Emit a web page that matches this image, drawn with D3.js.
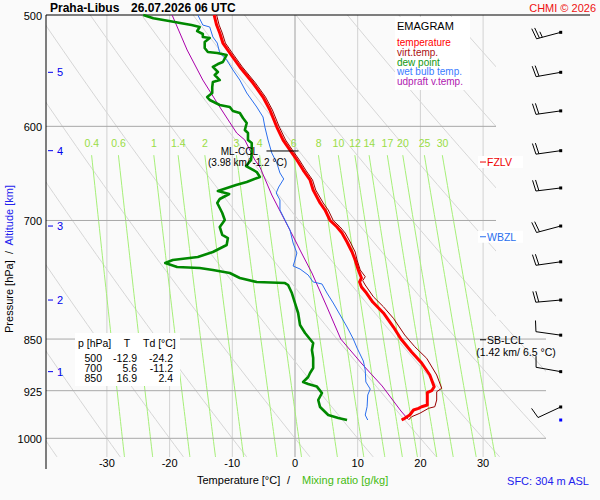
<!DOCTYPE html>
<html><head><meta charset="utf-8">
<script src="https://cdn.jsdelivr.net/npm/d3@7"></script>
<style>
body{margin:0;background:#fafafa;}
svg{display:block;font-family:"Liberation Sans",Arial,sans-serif;}
</style></head><body>
<svg id="c" width="600" height="500"></svg>
<script>
// ---------- data ----------
const presLevels = [500, 600, 700, 850, 925, 1000];
const tempTicks = [-30, -20, -10, 0, 10, 20, 30];
const mixRatios = [0.4, 0.6, 1, 1.4, 2, 3, 4, 6, 8, 10, 12, 14, 17, 20, 25, 30];
const thetaLines = [-40, -30, -20, -10, 0, 10, 20, 30, 40, 50, 60, 70, 80, 90, 100, 110];
const altKm = [1, 2, 3, 4, 5];
const altP = [896.6, 797.4, 706.4, 624.4, 549.2];

// temperature
const tP = [500,508.3,515,523.5,532.1,544.4,558.9,571.9,584.2,600.7,613.6,625.7,634,644.5,655.1,665.9,680.2,688.1,700,707.5,714.5,725.1,737.1,746.8,759.1,769.1,774.2,780.6,788.3,800,814.5,833.4,850,868.2,884,901.5,919,925,928.1,946.9,949.6,952.1,954.7,962.6,967.8,970.5];
const tT = [-12.9,-12.5,-12.0,-11.5,-10.4,-8.8,-6.7,-5.1,-4.0,-2.9,-1.9,-0.6,0.3,1.3,2.4,2.9,4.0,4.8,5.6,6.7,7.5,8.3,9.1,9.6,10.1,10.6,10.3,10.6,11.4,12.4,14.1,15.7,16.9,18.6,20.2,21.5,22.2,21.8,21.1,21.1,20.2,19.7,18.9,18.3,17.5,17.0];
// virtual temperature
const vP = [500,508.3,515,523.5,532.1,544.4,558.9,571.9,584.2,600.7,613.6,625.7,634,644.5,655.1,665.9,680.2,688.1,700,707.5,714.5,725.1,737.1,746.8,759.1,767.5,772.5,778,793.1,806.2,821.6,844.4,860.7,877.2,901.5,921.4,926.5,939.2,949.6,952.1,959.9,965.3,970.5];
const vT = [-12.5,-12.1,-11.6,-11.1,-10.0,-8.4,-6.3,-4.7,-3.6,-2.5,-1.5,-0.2,0.7,1.7,2.8,3.3,4.5,5.3,6.1,7.2,8.0,8.8,9.6,9.9,10.4,11.2,10.8,11.2,12.5,14.1,15.7,17.5,19.1,21.0,22.6,23.4,22.6,22.6,22.3,21.3,19.9,18.6,18.1];
// dew point
const dP = [500,502.7,504.1,505.5,506.8,508.3,509.9,513.3,515.8,518.3,519.2,522.6,527.8,531.2,532.1,533.8,540.0,541.8,544.4,548.9,551.6,556.2,558.0,562.6,568.1,571.9,574.7,579.4,581.3,585.1,587.0,591.9,596.7,603.6,606.6,613.6,616.6,626.8,634.0,640.3,646.6,651.9,657.2,660.5,667.0,670.3,675.8,680.2,691.5,699.4,707.5,716.8,720.4,728.7,737.1,743.1,746.8,750.5,755.4,756.7,759.1,762.9,769.1,774.2,775.5,778.0,788.3,801.3,814.5,830.7,841.6,851.3,855.5,865.4,876.8,891.3,898.6,904.5,911.9,914.9,918.8,928.5,939.2,950.1,962.6,967.3,970.5];
const dT = [-24.2,-22.6,-21.0,-19.4,-18.1,-16.5,-15.2,-15.6,-14.7,-14.7,-13.6,-14.4,-14.4,-13.9,-12.4,-10.9,-11.5,-12.3,-13.1,-12.3,-12.8,-12.0,-13.1,-13.2,-13.2,-14.0,-13.6,-12.0,-10.4,-9.9,-8.8,-8.3,-7.7,-8.0,-7.5,-7.5,-6.9,-6.9,-7.0,-7.8,-6.1,-5.6,-7.7,-9.4,-12.3,-10.5,-12.0,-12.4,-11.6,-11.2,-12.0,-11.6,-10.7,-10.9,-13.1,-15.5,-19.5,-20.7,-18.8,-15.2,-13.1,-10.4,-8.8,-6.1,-1.6,-1.1,-0.5,0.0,0.5,0.8,1.6,2.5,2.9,2.7,2.9,2.9,2.4,2.1,1.3,2.1,3.5,4.3,3.7,4.0,5.3,6.9,8.3];
// wet bulb temperature
const wP = [500,508.3,509.9,518.3,523.5,532.1,538.2,547.1,556.2,568.1,581.3,590.9,600.7,613.6,626.8,637.1,647.6,654,662.7,669.2,676.9,688.1,699.4,711,726.3,738.3,746.8,754.2,757.9,765.4,774.2,776.7,788.3,801.3,817.2,833.4,850,862.6,881.1,894.2,911.9,922.5,931.6,949.6,962.6,970.5];
const wT = [-15.5,-14.7,-13.6,-13.1,-12.4,-12.0,-10.9,-9.9,-8.8,-7.7,-6.1,-5.1,-4.8,-4.3,-3.7,-2.9,-2.4,-1.8,-2.6,-3.0,-2.4,-2.4,-1.6,-0.8,-0.3,0.3,0.0,-0.3,0.8,2.1,2.9,4.3,5.1,6.1,7.2,8.3,9.3,9.9,10.9,11.2,11.3,12.0,11.6,11.5,11.2,11.6];
// updraft virtual temperature (parcel)
const uP = [500,529.5,556.2,581.3,606.6,613.6,623.7,634.0,641.3,671.4,696.0,722.7,734.7,762.9,806.5,850,885.5,917.9,956.3,968.9];
const uT = [-19.6,-17.2,-14.7,-12.0,-9.3,-8.0,-7.2,-6.4,-5.6,-3.7,-1.9,0.0,0.8,2.7,5.1,7.3,10.7,13.9,16.9,18.0];

// wind barbs
const barbP = [514.4, 549.2, 585, 624.4, 663.7, 706.4, 749, 797.4, 844.6, 896.6, 950];
const barbDir = [255, 260, 262, 262, 263, 255, 262, 265, 278, 280, 245];
const barbSpd = [25, 20, 20, 20, 20, 20, 20, 20, 10, 10, 10];
const sfcP = 970.5;

// table
const tabP = [500, 700, 850];
const tabT = ["-12.9", "5.6", "16.9"];
const tabTd = ["-24.2", "-11.2", "2.4"];

// levels
const cclP = 624.7, cclT = -1.2;
const lclP = 851;
const fzlvP = 636.1;
const wbzlP = 718.9;

const legendItems = ["temperature", "virt.temp.", "dew point", "wet bulb temp.", "udpraft v.temp."];
const legendColors = ["#ff0000", "#aa1111", "#119911", "#3a7bff", "#b020b0"];

// ---------- scales ----------
const x = d3.scaleLinear().domain([-30, 30]).range([106.9, 483.1]);
const y = d3.scaleLog().domain([500, 1000]).range([15, 438.3]);

const svg = d3.select("#c");
svg.append("rect").attr("width", 600).attr("height", 500).attr("fill", "#fafafa");

svg.append("defs").append("clipPath").attr("id", "pc")
  .append("polygon").attr("points", "46,15 496,15 496,320 546,320 546,457 46,457");

const grid = svg.append("g").attr("clip-path", "url(#pc)");

// isotherms
grid.selectAll(".iso").data(tempTicks).enter().append("line")
  .attr("x1", d => x(d)).attr("x2", d => x(d))
  .attr("y1", 15).attr("y2", 457)
  .attr("stroke", d => d === 0 ? "#a0a0a0" : "#d2d2d2").attr("stroke-width", 1);

// dry adiabats
const pSamp = d3.range(490, 1071, 10);
const adLine = d3.line().x(d => x(d[0])).y(d => y(d[1]));
thetaLines.forEach(th => {
  const pts = pSamp.map(p => [(th + 273.15) * Math.pow(p / 1000, 0.2857) - 273.15, p]);
  grid.append("path").attr("d", adLine(pts)).attr("fill", "none")
    .attr("stroke", "#d6d6d6").attr("stroke-width", 1);
});

// mixing ratio lines
function mrTd(w, p) { const e = w * p / (622 + w); const a = Math.log(e / 6.112); return 243.5 * a / (17.67 - a); }
const mrSamp = d3.range(629, 1032, 8).concat([1031]);
mixRatios.forEach(w => {
  const pts = mrSamp.map(p => [mrTd(w, p), p]);
  grid.append("path").attr("d", adLine(pts)).attr("fill", "none")
    .attr("stroke", "#a6ef78").attr("stroke-width", 1);
});
svg.selectAll(".mrl").data(mixRatios).enter().append("text")
  .attr("x", d => x(mrTd(d, 630))).attr("y", 147)
  .attr("text-anchor", "middle").attr("font-size", "10.5px").attr("fill", "#99dd44")
  .text(d => d);

// isobars
presLevels.filter(p => p !== 500).forEach(p => {
  svg.append("line").attr("x1", 46).attr("x2", p >= 800 ? 546 : 496)
    .attr("y1", y(p)).attr("y2", y(p)).attr("stroke", "#a8a8a8").attr("stroke-width", 1);
});
// frame
svg.append("line").attr("x1", 46).attr("x2", 590).attr("y1", 15).attr("y2", 15).attr("stroke", "#000");
svg.append("line").attr("x1", 46).attr("x2", 46).attr("y1", 15).attr("y2", 469).attr("stroke", "#000");

// pressure labels
svg.selectAll(".pl").data(presLevels).enter().append("text")
  .attr("x", 42).attr("y", d => y(d) + 5).attr("text-anchor", "end")
  .attr("font-size", "11px").attr("fill", "#000").text(d => d);

// altitude ticks
altKm.forEach((k, i) => {
  const yy = y(altP[i]);
  svg.append("line").attr("x1", 48).attr("x2", 53).attr("y1", yy).attr("y2", yy).attr("stroke", "#0000ee");
  svg.append("text").attr("x", 57).attr("y", yy + 4).attr("font-size", "11px").attr("fill", "#0000ee").text(k);
});

// temperature tick labels
svg.selectAll(".tl").data(tempTicks).enter().append("text")
  .attr("x", d => x(d)).attr("y", 466.5).attr("text-anchor", "middle")
  .attr("font-size", "11px").attr("fill", "#000").text(d => d);

// axis titles
const yt = svg.append("text").attr("transform", "translate(13,259) rotate(-90)")
  .attr("text-anchor", "middle").attr("font-size", "11px").style("white-space", "pre");
yt.append("tspan").attr("fill", "#000").text("Pressure [hPa]  /  ");
yt.append("tspan").attr("fill", "#2222ee").text("Altitude [km]");

svg.append("text").attr("x", 197).attr("y", 484).attr("font-size", "11px").attr("fill", "#000").text("Temperature [°C]");
svg.append("text").attr("x", 287).attr("y", 484).attr("font-size", "11px").attr("fill", "#000").text("/");
svg.append("text").attr("x", 302).attr("y", 484).attr("font-size", "11px").attr("fill", "#44bb11").text("Mixing ratio [g/kg]");
svg.append("text").attr("x", 589).attr("y", 485).attr("text-anchor", "end").attr("font-size", "11px").attr("fill", "#2222ee").text("SFC: 304 m ASL");

// title
svg.append("text").attr("x", 50).attr("y", 12).attr("font-size", "12px").attr("font-weight", "bold").text("Praha-Libus");
svg.append("text").attr("x", 131).attr("y", 12).attr("font-size", "12px").attr("font-weight", "bold").text("26.07.2026 06 UTC");
svg.append("text").attr("x", 596).attr("y", 11.5).attr("text-anchor", "end").attr("font-size", "11px").attr("fill", "#ee1111").text("CHMI © 2026");

// profiles
const prof = d3.line().x(d => x(d[1])).y(d => y(d[0]));
function draw(P, T, color, w) {
  svg.append("path").attr("d", prof(P.map((p, i) => [p, T[i]])))
    .attr("fill", "none").attr("stroke", color).attr("stroke-width", w)
    .attr("stroke-linejoin", "round");
}
draw(uP, uT, "#aa00aa", 1);
draw(wP, wT, "#2a6fee", 1);
draw(dP, dT, "#008800", 2.6);
draw(tP, tT, "#ff0000", 3);
draw(vP, vT, "#990000", 1);

// legend
svg.append("rect").attr("x", 395).attr("y", 17).attr("width", 75).attr("height", 73).attr("fill", "#fff");
svg.append("text").attr("x", 397).attr("y", 30).attr("font-size", "11px").attr("fill", "#000").text("EMAGRAM");
legendItems.forEach((s, i) => {
  svg.append("text").attr("x", 397).attr("y", 45.8 + i * 9.85).attr("font-size", "10px")
    .attr("fill", legendColors[i]).text(s);
});

// table
svg.append("rect").attr("x", 75).attr("y", 333).attr("width", 105).attr("height", 53).attr("fill", "#fff");
svg.append("text").attr("x", 78).attr("y", 347).attr("font-size", "10.5px").text("p [hPa]");
svg.append("text").attr("x", 127).attr("y", 347).attr("text-anchor", "middle").attr("font-size", "10.5px").text("T");
svg.append("text").attr("x", 143).attr("y", 347).attr("font-size", "10.5px").text("Td [°C]");
tabP.forEach((p, i) => {
  const yy = 362 + i * 10;
  svg.append("text").attr("x", 102).attr("y", yy).attr("text-anchor", "end").attr("font-size", "10.5px").text(p);
  svg.append("text").attr("x", 137).attr("y", yy).attr("text-anchor", "end").attr("font-size", "10.5px").text(tabT[i]);
  svg.append("text").attr("x", 173).attr("y", yy).attr("text-anchor", "end").attr("font-size", "10.5px").text(tabTd[i]);
});

// ML-CCL
const yc = y(cclP);
svg.append("line").attr("x1", x(cclT) - 21).attr("x2", x(cclT) + 11).attr("y1", yc).attr("y2", yc).attr("stroke", "#000");
svg.append("text").attr("x", 258).attr("y", yc + 4.5).attr("text-anchor", "end").attr("font-size", "10px").text("ML-CCL");
svg.append("text").attr("x", 247.5).attr("y", yc + 15.5).attr("text-anchor", "middle").attr("font-size", "10px").text("(3.98 km/ -1.2 °C)");

// SB-LCL
const yl = y(lclP);
svg.append("line").attr("x1", 480).attr("x2", 486).attr("y1", yl).attr("y2", yl).attr("stroke", "#000");
svg.append("text").attr("x", 487).attr("y", yl + 4).attr("font-size", "10.5px").text("SB-LCL");
svg.append("text").attr("x", 516).attr("y", yl + 16).attr("text-anchor", "middle").attr("font-size", "10.5px").text("(1.42 km/ 6.5 °C)");

// FZLV / WBZL
[[fzlvP, "FZLV", "#ee0000"], [wbzlP, "WBZL", "#2a6fee"]].forEach(([p, s, c]) => {
  const yy = y(p);
  svg.append("rect").attr("x", 478).attr("y", yy - 6).attr("width", 45).attr("height", 12).attr("fill", "#fff");
  svg.append("line").attr("x1", 480).attr("x2", 486).attr("y1", yy).attr("y2", yy).attr("stroke", c);
  svg.append("text").attr("x", 487).attr("y", yy + 4).attr("font-size", "10.5px").attr("fill", c).text(s);
});

// wind barbs
const cx = 560.7, L = 25;
barbP.forEach((p, i) => {
  const cy = y(p);
  const a = barbDir[i] * Math.PI / 180;
  const vx = Math.sin(a), vy = -Math.cos(a);
  const px = -vy, py = vx;
  const ex = cx + vx * L, ey = cy + vy * L;
  const g = svg.append("g").attr("stroke", "#000").attr("stroke-width", 1).attr("fill", "none");
  g.append("line").attr("x1", cx).attr("y1", cy).attr("x2", ex).attr("y2", ey);
  const n10 = Math.floor(barbSpd[i] / 10), n5 = (barbSpd[i] % 10) >= 5 ? 1 : 0;
  for (let k = 0; k < n10; k++) {
    const bx = ex - vx * 3 * k, by = ey - vy * 3 * k;
    g.append("line").attr("x1", bx).attr("y1", by)
      .attr("x2", bx + px * 11 + vx * 2).attr("y2", by + py * 11 + vy * 2);
  }
  if (n5) {
    const bx = ex - vx * 3 * n10, by = ey - vy * 3 * n10;
    g.append("line").attr("x1", bx).attr("y1", by)
      .attr("x2", bx + px * 6 + vx * 1).attr("y2", by + py * 6 + vy * 1);
  }
  svg.append("rect").attr("x", cx - 1.5).attr("y", cy - 1.5).attr("width", 3).attr("height", 3).attr("fill", "#000");
});
svg.append("rect").attr("x", cx - 1.5).attr("y", y(sfcP) - 1.5).attr("width", 3).attr("height", 3).attr("fill", "#0000ff");
</script></body></html>
